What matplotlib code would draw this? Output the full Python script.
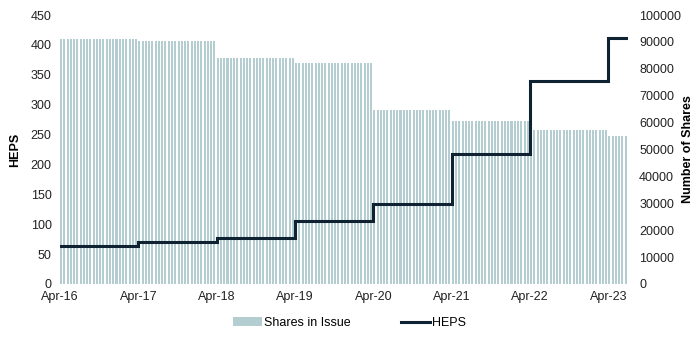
import matplotlib
matplotlib.use("Agg")
import matplotlib.pyplot as plt
import numpy as np

plt.rcParams['font.family'] = ['Liberation Sans', 'DejaVu Sans']

# half-monthly periods, Apr-16 .. Jun-23
periods_per_year = 24
seg_lengths = [24, 24, 24, 24, 24, 24, 24, 6]
shares = [91000, 90300, 84000, 82150, 64700, 60600, 57250, 55000]
heps = [63.5, 70.2, 76.4, 104.8, 133.2, 217.4, 339.5, 410.9]
tick_labels = ["Apr-16", "Apr-17", "Apr-18", "Apr-19", "Apr-20", "Apr-21", "Apr-22", "Apr-23"]

bar_color = "#b4cdd0"
line_color = "#0e2232"

n = sum(seg_lengths)
x = np.arange(n)
shares_series = np.repeat(shares, seg_lengths)
heps_series = np.repeat(heps, seg_lengths)

fig = plt.figure(figsize=(6.99, 3.4), dpi=100)
ax = fig.add_axes([60/699, 1-284/340, 568/699, 269/340])
ax2 = ax.twinx()

bars = ax2.bar(x, shares_series, width=0.62, align='edge', color=bar_color,
               linewidth=0, label="Shares in Issue")
xs = np.append(x, n)
ys = np.append(heps_series, heps_series[-1])
line, = ax.step(xs, ys, where='post', color=line_color, linewidth=2.2,
                label="HEPS", solid_joinstyle='miter')

ax.set_zorder(ax2.get_zorder() + 1)
ax.patch.set_visible(False)

ax.set_xlim(0, n)
ax.set_ylim(0, 450)
ax2.set_ylim(0, 100000)
ax.set_yticks(np.arange(0, 451, 50))
ax2.set_yticks(np.arange(0, 100001, 10000))
ax.set_xticks(np.arange(0, len(tick_labels)) * periods_per_year)
ax.set_xticklabels(tick_labels)

for a in (ax, ax2):
    for s in a.spines.values():
        s.set_visible(False)
    a.tick_params(length=0, labelsize=9, colors="#222222")
ax.tick_params(axis='y', pad=6)
ax.tick_params(axis='x', pad=5)
ax2.tick_params(axis='y', pad=8)

ax.set_ylabel("HEPS", fontsize=9, fontweight='bold')
ax2.set_ylabel("Number of Shares", fontsize=9, fontweight='bold')
ax.yaxis.set_label_coords(-0.079, 0.5)
ax2.yaxis.set_label_coords(1.106, 0.5)
for lab in (ax.yaxis.label, ax2.yaxis.label):
    lab.set_verticalalignment('center')
    lab.set_horizontalalignment('center')

fig.legend([bars, line], ["Shares in Issue", "HEPS"], loc='center',
           bbox_to_anchor=(0.5, 1-323/340), ncol=2, frameon=False,
           fontsize=9, handlelength=2.3, handletextpad=0.2, columnspacing=4.0)

fig.savefig("out.png", dpi=100)
